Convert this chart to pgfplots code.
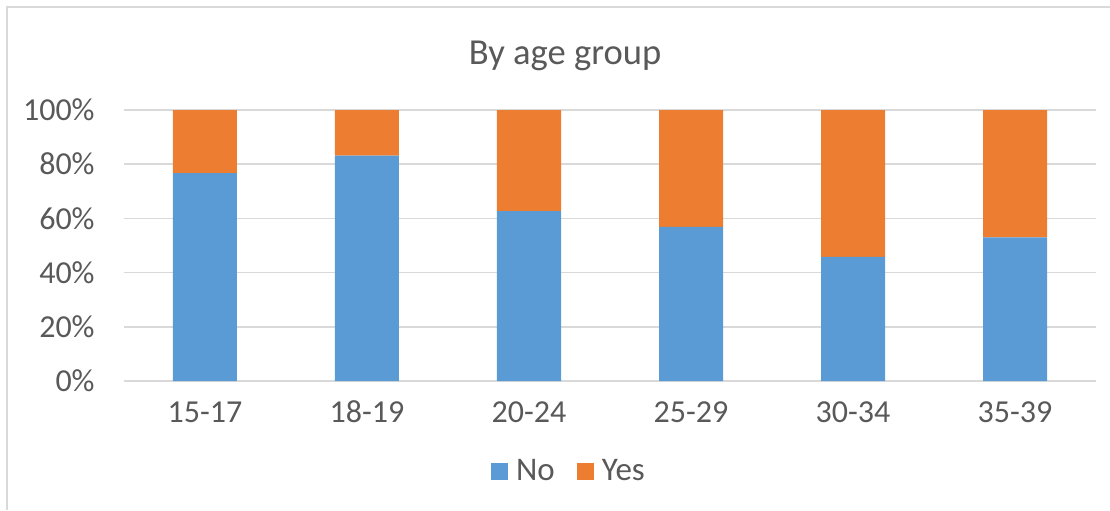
\documentclass[border=0pt]{standalone}
\usepackage{fontspec}
\setmainfont{Carlito}
\usepackage{pgfplots}
\pgfplotsset{compat=1.18}
\definecolor{barblue}{HTML}{5B9BD5}
\definecolor{barorange}{HTML}{ED7D31}
\definecolor{gridgray}{HTML}{D9D9D9}
\definecolor{txtgray}{HTML}{595959}
\begin{document}
\begin{tikzpicture}
\useasboundingbox (0,0) rectangle (555pt,255pt);
\draw[gridgray, line width=1pt] (3.5pt,0) -- (3.5pt,251.5pt) -- (555pt,251.5pt);
\node[txtgray, font=\fontsize{18.3}{22}\selectfont] at (282.5pt,227pt) {By age group};
\begin{axis}[
    at={(62pt,64.5pt)}, anchor=south west,
    scale only axis,
    width=486pt, height=135.5pt,
    ybar stacked,
    bar width=32pt,
    xmin=-0.5, xmax=5.5,
    ymin=0, ymax=100,
    xtick={0,1,2,3,4,5},
    xticklabels={15-17,18-19,20-24,25-29,30-34,35-39},
    ytick={0,20,40,60,80,100},
    yticklabel={\pgfmathprintnumber{\tick}\%},
    /pgf/number format/assume math mode=true,
    major tick length=0pt,
    tick style={draw=none},
    axis line style={draw=none},
    ymajorgrids,
    grid style={gridgray, line width=0.75pt},
    ticklabel style={txtgray, font=\fontsize{16}{19}\selectfont},
    yticklabel style={anchor=east, inner sep=0pt, xshift=-14.5pt},
    xticklabel style={anchor=base, inner sep=0pt, yshift=-20.5pt},
    legend columns=2,
    legend style={at={(0.5,0)}, anchor=center, xshift=-20pt, yshift=-45pt,
        draw=none, fill=none, text=txtgray, font=\fontsize{16.5}{19}\selectfont,
        /tikz/every odd column/.append style={column sep=2pt},
        /tikz/every even column/.append style={column sep=9pt}},
    legend image code/.code={\fill[#1] (0pt,-4.25pt) rectangle (8.5pt,4.25pt);},
]
\addplot[fill=barblue, draw=none] coordinates {(0,76.7) (1,83.2) (2,62.7) (3,56.9) (4,45.8) (5,53.0)};
\addplot[fill=barorange, draw=none] coordinates {(0,23.3) (1,16.8) (2,37.3) (3,43.1) (4,54.2) (5,47.0)};
\legend{No,Yes}
\end{axis}
\end{tikzpicture}
\end{document}
